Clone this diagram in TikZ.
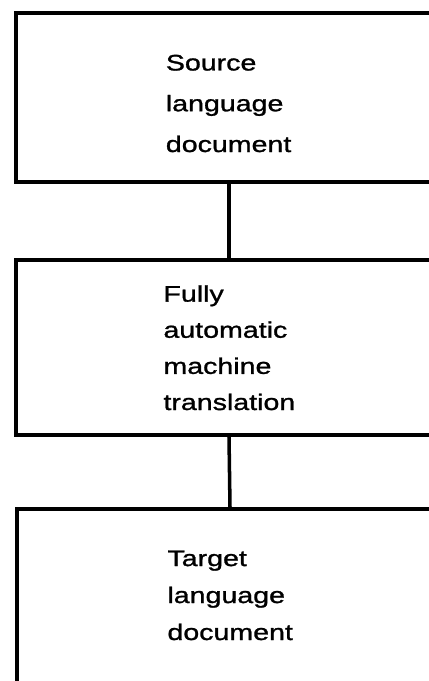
\documentclass[tikz,border=0pt]{standalone}
\usepackage{fontspec}
\newfontfamily\boxfont{Liberation Sans}[FakeStretch=1.27,FakeBold=1.2]
\usepackage{tikz}

\begin{document}
\begin{tikzpicture}[
  box/.style={draw, line width=2.5pt, minimum width=10.65cm, inner sep=0pt},
  txt/.style={anchor=base west, align=left, inner sep=0pt},
  link/.style={line width=2.5pt},
]
\useasboundingbox (0,0) rectangle (10.7,-17.025);
\node[box, minimum height=4.225cm] (src) at (5.725,-2.4375) {};
\node[box, minimum height=4.375cm] (mt) at (5.725,-8.6875) {};
\node[box, minimum height=5.3cm] (tgt) at (5.75,-15.375) {};
\node[txt, font=\boxfont\fontsize{16}{29}\selectfont] (srctxt) at (4.14,-3.8) {Source\\language\\document};
\node[txt, font=\boxfont\fontsize{16}{25.7}\selectfont] (mttxt) at (4.08,-10.25) {Fully\\automatic\\machine\\translation};
\node[txt, font=\boxfont\fontsize{16}{26.3}\selectfont] (tgttxt) at (4.18,-16.0) {Target\\language\\document};
\draw[link] (src.south) -- (mt.north);
\draw[link] (mt.south) -- (tgt.north);
\end{tikzpicture}
\end{document}
